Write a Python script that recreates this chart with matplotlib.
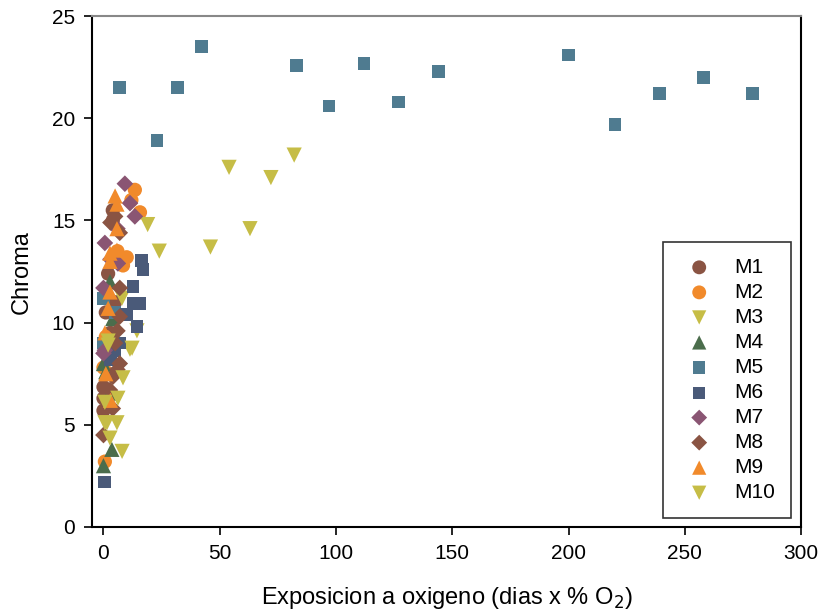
import matplotlib.pyplot as plt

plt.rcParams['font.family'] = ['Liberation Sans', 'DejaVu Sans']

# data per series (x = exposicion, y = chroma)
m1_x = [2, 4, 4, 0, 0, 2, 3, 1, 5, 0]
m1_y = [12.4, 15.5, 15.0, 6.85, 5.7, 7.5, 9.5, 10.5, 11.0, 6.3]

m2_x = [13.5, 15.7, 8.4, 0.6, 12, 10, 6, 0, 1]
m2_y = [16.5, 15.4, 12.8, 3.2, 16.0, 13.2, 13.5, 7.8, 9.3]

m3_x = [54, 46, 63, 72, 82, 19, 24, 14.4, 11.4, 8]
m3_y = [17.6, 13.7, 14.6, 17.1, 18.2, 14.8, 13.5, 9.6, 8.7, 11.2]

m4_x = [2.8, 0, 2.8, 3.6, 0, 1, 4]
m4_y = [12.0, 8.0, 6.55, 3.8, 3.0, 7.6, 10.2]

m5_x = [7, 23, 32, 42, 83, 97, 112, 127, 144, 200, 220, 239, 258, 279, 0, 5, 0]
m5_y = [21.5, 18.9, 21.5, 23.5, 22.6, 20.6, 22.7, 20.8, 22.3, 23.1, 19.7, 21.2, 22.0, 21.2, 11.2, 10.5, 9.0]

m6_x = [16.5, 17, 12.7, 12.7, 15.7, 10, 14.4, 5, 0.6, 7, 3]
m6_y = [13.05, 12.6, 11.75, 10.95, 10.95, 10.4, 9.8, 8.65, 2.2, 9.0, 8.2]

m7_x = [9.2, 11.4, 13.5, 0.6, 6.2, 0, 0.6, 6, 3, 0]
m7_y = [16.8, 15.85, 15.2, 13.9, 12.9, 11.7, 8.65, 14.6, 13.1, 8.5]

m8_x = [7, 7, 7, 6, 7, 4, 2.8, 4, 0, 5, 3, 6, 5]
m8_y = [14.4, 11.7, 10.3, 9.6, 8.0, 7.35, 6.7, 5.8, 4.5, 15.2, 14.9, 7.7, 9.0]

m9_x = [5.8, 5.8, 5.8, 2.8, 2.8, 2.8, 2, 0.6, 5, 1, 3]
m9_y = [15.8, 14.6, 13.55, 13.4, 13.0, 11.5, 10.7, 9.5, 16.2, 7.5, 6.2]

m10_x = [8.4, 6.2, 0.6, 1.5, 5.8, 0.6, 2.8, 8, 2, 2, 12.3]
m10_y = [7.3, 6.3, 6.1, 5.1, 5.1, 5.1, 4.35, 3.7, 9.1, 8.9, 8.75]

series = [
    ('M1', m1_x, m1_y, 'o', '#8a5443'),
    ('M2', m2_x, m2_y, 'o', '#f18a2b'),
    ('M3', m3_x, m3_y, 'v', '#c6bd46'),
    ('M4', m4_x, m4_y, '^', '#4b6d4c'),
    ('M5', m5_x, m5_y, 's', '#4f7b90'),
    ('M6', m6_x, m6_y, 's', '#4a5a79'),
    ('M7', m7_x, m7_y, 'D', '#8a5573'),
    ('M8', m8_x, m8_y, 'D', '#8a5443'),
    ('M9', m9_x, m9_y, '^', '#f18a2b'),
    ('M10', m10_x, m10_y, 'v', '#c6bd46'),
]
sizes = {'o': 105, 'v': 120, '^': 120, 's': 85, 'D': 72}
leg_sizes = {'o': 100, 'v': 105, '^': 105, 's': 75, 'D': 65}

fig = plt.figure(figsize=(8.2, 6.14), dpi=100)
ax = fig.add_axes([0.112, 0.1417, 0.865, 0.832])

for name, xs, ys, mk, col in series:
    ax.scatter(xs, ys, marker=mk, s=sizes[mk], color=col, edgecolors='none', label=name)

ax.set_xlim(-5, 300)
ax.set_ylim(0, 25)
ax.set_xticks([0, 50, 100, 150, 200, 250, 300])
ax.set_yticks([0, 5, 10, 15, 20, 25])
ax.tick_params(direction='out', length=6, width=1.2, labelsize=15, pad=6)

ax.spines['left'].set_linewidth(1.5)
ax.spines['bottom'].set_linewidth(1.5)
ax.spines['right'].set_linewidth(1.5)
ax.spines['top'].set_color('#888888')
ax.spines['top'].set_linewidth(1.5)

ax.set_xlabel('Exposicion a oxigeno (dias x % O$_2$)', fontsize=17, labelpad=16)
ax.set_ylabel('Chroma', fontsize=17, labelpad=14)

leg = ax.legend(loc='lower right', bbox_to_anchor=(0.985, 0.018), frameon=True,
                fancybox=False, edgecolor='black', fontsize=15,
                labelspacing=0.29, handletextpad=0.67, borderpad=0.75,
                borderaxespad=0, scatterpoints=1, handlelength=2.0)
leg.get_frame().set_linewidth(1.2)
for h, s in zip(leg.legend_handles, series):
    h.set_sizes([leg_sizes[s[3]]])

fig.savefig('out.png', dpi=100)
